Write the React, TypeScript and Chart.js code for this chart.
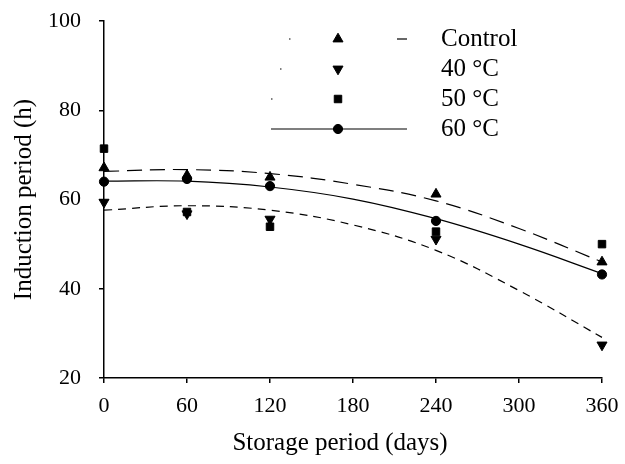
import React, { useEffect, useRef } from "react";
import { Chart, registerables } from "chart.js";

Chart.register(...registerables);

// ---- data ----
const storageDays = [0, 60, 120, 240, 360];
const seriesLabels = ["Control", "40 °C", "50 °C", "60 °C"];
const controlValues = [67.1, 65.4, 65.0, 61.2, 46.0];
const c40Values = [59.4, 56.8, 55.6, 51.1, 27.4];
const c50Values = [71.4, 57.2, 53.9, 52.8, 50.0];
const c60Values = [64.0, 64.6, 63.0, 55.2, 43.2];

// fitted trend curves
const trendDays = [0, 60, 120, 180, 240, 300, 360];
const controlTrend = [66.3, 66.7, 65.8, 63.4, 59.7, 53.5, 46.0];
const c40Trend = [57.6, 58.6, 57.6, 54.3, 48.6, 39.6, 29.1];
const c60Trend = [64.1, 64.1, 62.8, 60.1, 55.7, 50.0, 43.4];

const xTicks = [0, 60, 120, 180, 240, 300, 360];
const yTicks = [20, 40, 60, 80, 100];
const xTitle = "Storage period (days)";
const yTitle = "Induction period (h)";

// ---- styles ----
const FONT = "'Liberation Serif', 'Times New Roman', serif";
const W = 625;
const H = 464;
const TICK_SIZE = 22;
const TITLE_SIZE = 25;

const pts = (xs: number[], ys: number[]) => xs.map((x, i) => ({ x, y: ys[i] }));

const markerStyles = [
  { pointStyle: "triangle", radius: 5.8, rotation: 0 },
  { pointStyle: "triangle", radius: 5.8, rotation: 180 },
  { pointStyle: "rect", radius: 5.3, rotation: 0 },
  { pointStyle: "circle", radius: 4.6, rotation: 0 },
];

// legend decoration (reference legend samples)
const legendRowsY = [39, 69, 99, 129];
const legendMarkerX = 338;
const legendTextX = 441;
const legendSegments: number[][][] = [
  [[289, 290.5], [397, 407]],
  [[280, 281.5]],
  [[271, 272.5]],
  [[271, 407]],
];
const xTitleCenterX = 340;
const xTitleCenterY = 443;

function drawMarker(ctx: CanvasRenderingContext2D, style: string, r: number, rotation: number, x: number, y: number) {
  ctx.beginPath();
  if (style === "circle") {
    ctx.arc(x, y, r, 0, Math.PI * 2);
  } else if (style === "rect") {
    const s = r * Math.SQRT1_2;
    ctx.rect(x - s, y - s, 2 * s, 2 * s);
  } else {
    const dir = rotation === 180 ? 1 : -1;
    const half = r * Math.sin((2 * Math.PI) / 3);
    ctx.moveTo(x, y + dir * r);
    ctx.lineTo(x + half, y - dir * r * 0.5);
    ctx.lineTo(x - half, y - dir * r * 0.5);
    ctx.closePath();
  }
  ctx.fill();
  ctx.stroke();
}

const legendPlugin = {
  id: "customLegend",
  afterDraw(chart: any) {
    const ctx = chart.ctx as CanvasRenderingContext2D;
    ctx.save();
    seriesLabels.forEach((label, i) => {
      const y = legendRowsY[i];
      ctx.strokeStyle = "#000";
      ctx.lineWidth = 1.2;
      ctx.setLineDash([]);
      legendSegments[i].forEach(([a, b]) => {
        ctx.beginPath();
        ctx.moveTo(a, y);
        ctx.lineTo(b, y);
        ctx.stroke();
      });
      const m = markerStyles[i];
      ctx.fillStyle = "#000";
      ctx.lineWidth = 1;
      drawMarker(ctx, m.pointStyle, m.radius, m.rotation, legendMarkerX, y);
      ctx.fillStyle = "#000";
      ctx.font = `${TITLE_SIZE}px ${FONT}`;
      ctx.textBaseline = "middle";
      ctx.textAlign = "left";
      ctx.fillText(label, legendTextX, y);
    });
    // x-axis title
    ctx.font = `${TITLE_SIZE}px ${FONT}`;
    ctx.textAlign = "center";
    ctx.textBaseline = "middle";
    ctx.fillText(xTitle, xTitleCenterX, xTitleCenterY);
    ctx.restore();
  },
};

export default function App() {
  const ref = useRef<HTMLCanvasElement | null>(null);

  useEffect(() => {
    document.body.style.margin = "0";
    const canvas = ref.current;
    if (!canvas) return;

    const scatterSets = [controlValues, c40Values, c50Values, c60Values].map((vals, i) => ({
      label: seriesLabels[i],
      data: pts(storageDays, vals),
      showLine: false,
      clip: false,
      pointStyle: markerStyles[i].pointStyle,
      pointRadius: markerStyles[i].radius,
      pointRotation: markerStyles[i].rotation,
      pointBackgroundColor: "#000",
      pointBorderColor: "#000",
      pointBorderWidth: 1,
      order: 0,
    }));

    const trendSets = [
      { data: pts(trendDays, controlTrend), borderDash: [15, 8] },
      { data: pts(trendDays, c40Trend), borderDash: [8, 6] },
      { data: pts(trendDays, c60Trend), borderDash: [] as number[] },
    ].map((t) => ({
      label: "",
      data: t.data,
      showLine: true,
      clip: false,
      borderColor: "#000",
      borderWidth: 1.2,
      borderDash: t.borderDash,
      pointRadius: 0,
      tension: 0.4,
      fill: false,
      order: 1,
    }));

    const tickFont = { family: FONT, size: TICK_SIZE };

    const chart = new Chart(canvas, {
      type: "scatter",
      data: { datasets: [...scatterSets, ...trendSets] as any },
      options: {
        animation: false,
        responsive: false,
        layout: { padding: { left: 0, top: 21, right: 23, bottom: 0 } },
        plugins: { legend: { display: false }, tooltip: { enabled: false } },
        scales: {
          x: {
            type: "linear",
            min: 0,
            max: 360,
            afterBuildTicks: (s: any) => {
              s.ticks = xTicks.map((v) => ({ value: v }));
            },
            afterFit: (s: any) => {
              s.height = 86;
              s.paddingLeft = 0;
              s.paddingRight = 0;
            },
            ticks: { color: "#000", font: tickFont, padding: 10, maxRotation: 0 },
            grid: { display: true, drawOnChartArea: false, drawTicks: true, tickLength: 5, color: "#000", lineWidth: 1.5 },
            border: { display: true, color: "#000", width: 1.5 },
            title: { display: false, text: xTitle },
          },
          y: {
            type: "linear",
            min: 20,
            max: 100,
            afterBuildTicks: (s: any) => {
              s.ticks = yTicks.map((v) => ({ value: v }));
            },
            afterFit: (s: any) => {
              s.width = 104;
              s.paddingTop = 0;
              s.paddingBottom = 0;
            },
            ticks: { color: "#000", font: tickFont, padding: 18 },
            grid: { display: true, drawOnChartArea: false, drawTicks: true, tickLength: 5, color: "#000", lineWidth: 1.5 },
            border: { display: true, color: "#000", width: 1.5 },
            title: { display: true, text: yTitle, color: "#000", font: { family: FONT, size: TITLE_SIZE }, padding: { top: 9, bottom: 0 } },
          },
        },
      },
      plugins: [legendPlugin],
    } as any);

    return () => chart.destroy();
  }, []);

  return (
    <div style={{ width: W, height: H }}>
      <canvas ref={ref} width={W} height={H} style={{ width: W, height: H, display: "block" }} />
    </div>
  );
}
